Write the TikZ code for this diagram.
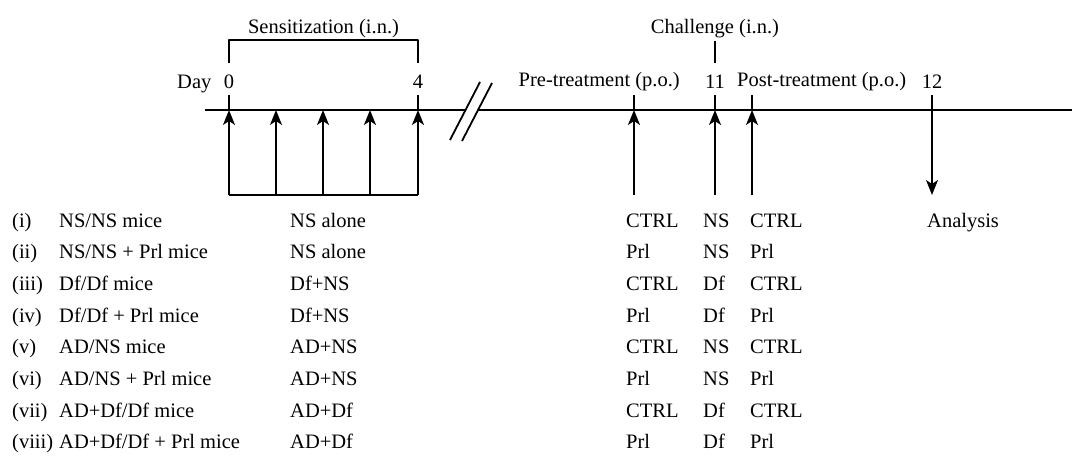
\documentclass[tikz,border=0pt]{standalone}
\usepackage{fontspec}
\setmainfont{Liberation Serif}
\usetikzlibrary{arrows.meta}

\begin{document}
\begin{tikzpicture}[x=1pt, y=-1pt, line join=round,
    every node/.style={font=\fontsize{20.5}{24}\selectfont, inner sep=0pt},
    axis/.style={line width=1.8pt},
    upar/.style={axis, -{Stealth[length=15pt, width=12pt, inset=4pt]}},
    lbl/.style={anchor=base},
    cell/.style={anchor=base west}]
    \useasboundingbox (0,0) rectangle (1072,464);

    % timeline with break
    \coordinate (T0) at (205,110);
    \coordinate (B1) at (466,110);
    \coordinate (B2) at (477,110);
    \coordinate (Tend) at (1072,110);
    \draw[axis] (T0)--(B1);
    \draw[axis] (B2)--(Tend);
    \draw[axis] (450,140)--(480,82);
    \draw[axis] (462,141)--(492,83);

    % sensitization days 0-4
    \foreach \x in {229,276,323,370,418}
        \draw[upar] (\x,195)--(\x,110);
    \draw[axis] (229,195)--(418,195);
    \draw[axis] (229,95)--(229,110);
    \draw[axis] (418,95)--(418,110);
    \draw[axis] (229,63)--(229,40)--(418,40)--(418,63);

    \node[lbl] (sens) at (323.5,33) {Sensitization (i.n.)};
    \node[cell] (day) at (177,88) {Day};
    \node[lbl] (d0) at (229,88) {0};
    \node[lbl] (d4) at (418,88) {4};

    % treatment and challenge
    \foreach \x in {634,715,752} {
        \draw[upar] (\x,195)--(\x,110);
        \draw[axis] (\x,95)--(\x,110);
    }
    \draw[axis] (715,41)--(715,63);
    \node[lbl] (chal) at (715,33) {Challenge (i.n.)};
    \node[lbl, anchor=base east] (pre) at (680,86) {Pre-treatment (p.o.)};
    \node[lbl] (d11) at (715,88) {11};
    \node[cell] (post) at (737,86) {Post-treatment (p.o.)};

    % analysis
    \node[lbl] (d12) at (932,88) {12};
    \draw[upar] (932,95)--(932,195);
    \node[cell] (ana) at (927,227) {Analysis};

    % groups
    \foreach \n/\g/\s/\p/\c/\q [count=\i] in {
        (i)/{NS/NS mice}/NS alone/CTRL/NS/CTRL,
        (ii)/{NS/NS + Prl mice}/NS alone/Prl/NS/Prl,
        (iii)/{Df/Df mice}/Df+NS/CTRL/Df/CTRL,
        (iv)/{Df/Df + Prl mice}/Df+NS/Prl/Df/Prl,
        (v)/{AD/NS mice}/AD+NS/CTRL/NS/CTRL,
        (vi)/{AD/NS + Prl mice}/AD+NS/Prl/NS/Prl,
        (vii)/{AD+Df/Df mice}/AD+Df/CTRL/Df/CTRL,
        (viii)/{AD+Df/Df + Prl mice}/AD+Df/Prl/Df/Prl} {
        \pgfmathsetmacro{\yy}{227+(\i-1)*31.7}
        \node[cell] (n\i) at (12,\yy) {\n};
        \node[cell] (g\i) at (59,\yy) {\g};
        \node[cell] (s\i) at (290,\yy) {\s};
        \node[cell] (p\i) at (626,\yy) {\p};
        \node[cell] (c\i) at (703,\yy) {\c};
        \node[cell] (q\i) at (750,\yy) {\q};
    }
\end{tikzpicture}
\end{document}
